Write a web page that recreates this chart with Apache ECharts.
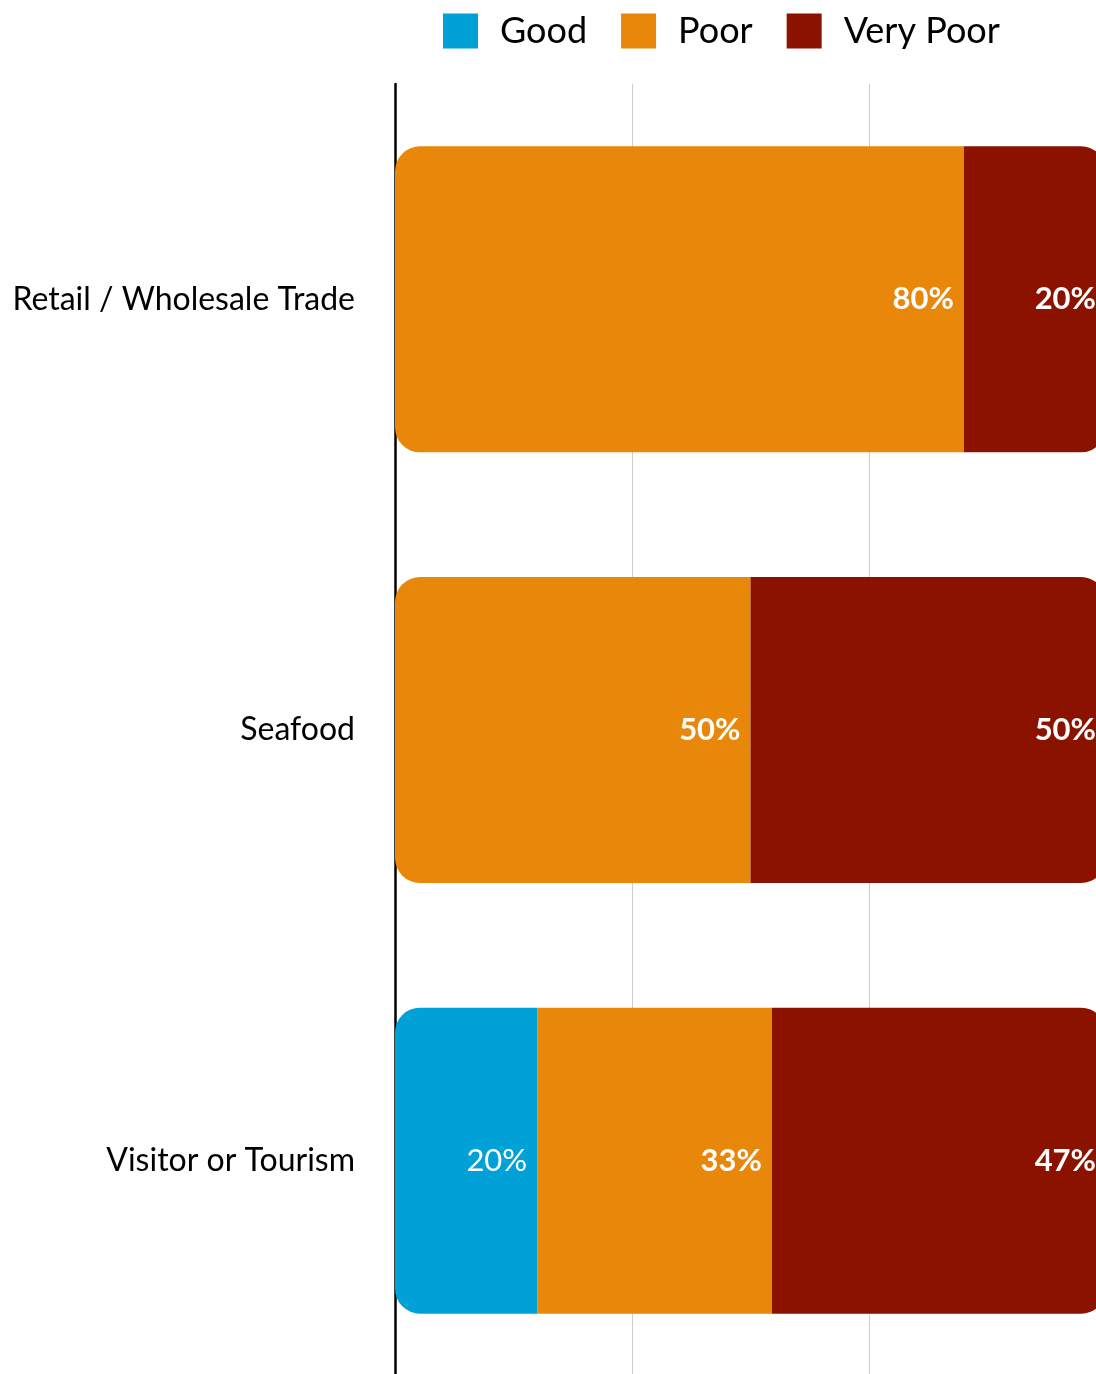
<!DOCTYPE html>
<html>
<head>
<meta charset="utf-8">
<script src="https://cdn.jsdelivr.net/npm/echarts@6/dist/echarts.min.js"></script>
<style>
  html, body { margin: 0; padding: 0; background: #fff; }
  #chart { width: 1096px; height: 1374px; }
</style>
</head>
<body>
<div id="chart"></div>
<script>
var categories = ['Retail / Wholesale Trade', 'Seafood', 'Visitor or Tourism'];
var seriesNames = ['Good', 'Poor', 'Very Poor'];
var good = [0, 0, 20];
var poor = [80, 50, 33];
var veryPoor = [20, 50, 47];
var xTicks = [0, 100 / 3, 200 / 3, 100];

var FONT = 'Lato';
var colors = ['#00A1D7', '#E8870A', '#8C1200'];
var allValues = [good, poor, veryPoor];
var R = 25;

function buildData(si) {
  return allValues[si].map(function (v, ci) {
    var first = -1, last = -1;
    for (var k = 0; k < allValues.length; k++) {
      if (allValues[k][ci] > 0) { if (first < 0) first = k; last = k; }
    }
    var rl = (si === first) ? R : 0;
    var rr = (si === last) ? R : 0;
    return {
      value: v > 0 ? v : null,
      itemStyle: { borderRadius: [rl, rr, rr, rl] }
    };
  });
}

var chart = echarts.init(document.getElementById('chart'), null, { renderer: 'canvas' });
var series = seriesNames.map(function (name, si) {
  return {
    name: name,
    type: 'bar',
    stack: 'total',
    barWidth: 306,
    data: buildData(si),
    itemStyle: { color: colors[si] },
    label: {
      show: true,
      position: 'insideRight',
      distance: 10,
      color: '#fff',
      fontFamily: FONT,
      fontSize: 31,
      fontWeight: si === 0 ? 'normal' : 'bold',
      formatter: function (p) { return p.value == null ? '' : p.value + '%'; }
    },
    emphasis: { disabled: true }
  };
});

chart.setOption({
  animation: false,
  textStyle: { fontFamily: FONT },
  legend: {
    data: seriesNames.map(function (n) { return { name: n, icon: 'rect' }; }),
    left: 443,
    top: 13,
    padding: 0,
    itemWidth: 35,
    itemHeight: 35,
    itemGap: 34,
    textStyle: { fontFamily: FONT, fontSize: 36, color: '#000', padding: [0, 0, 0, 17] }
  },
  grid: { left: 395, right: -10, top: 84, bottom: -2, containLabel: false, outerBoundsMode: 'none' },
  xAxis: {
    type: 'value',
    min: xTicks[0],
    max: xTicks[xTicks.length - 1],
    interval: xTicks[1] - xTicks[0],
    axisLabel: { show: false },
    axisLine: { show: false },
    axisTick: { show: false },
    splitLine: { show: true, lineStyle: { color: '#cccccc', width: 1 } }
  },
  yAxis: {
    type: 'category',
    inverse: true,
    data: categories,
    offset: 2,
    axisLine: { show: true, lineStyle: { color: '#000', width: 2.5 } },
    axisTick: { show: false },
    axisLabel: { color: '#000', fontFamily: FONT, fontSize: 32, margin: 38 }
  },
  series: series
});
</script>
</body>
</html>
